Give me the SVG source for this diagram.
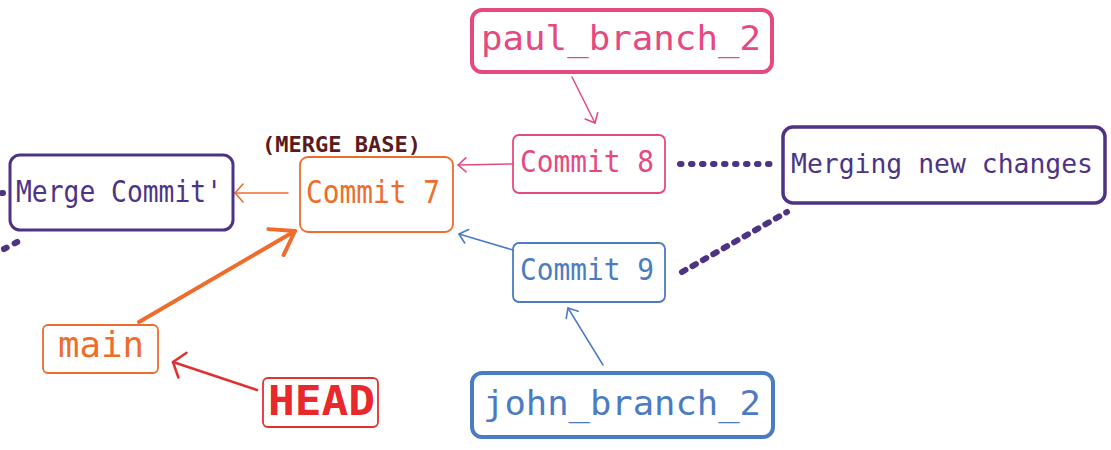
<svg xmlns="http://www.w3.org/2000/svg" width="1111" height="450" viewBox="0 0 1111 450">
<style>
.box{fill:none;stroke-linejoin:round}
.t{font-family:"DejaVu Sans Mono","Liberation Mono",monospace}
.pink{stroke:#e64980}.pinkt{fill:#e64980}
.orange{stroke:#ee6c2c}.oranget{fill:#ee6c2c}
.blue{stroke:#4b7bc3}.bluet{fill:#4b7bc3}
.purple{stroke:#4e3385}.purplet{fill:#4e3385}
.red{stroke:#e03131}.redt{fill:#e8282a}
.ln{fill:none;stroke-linecap:round;stroke-linejoin:round}
.dot{fill:none;stroke:#4e3385;stroke-width:6;stroke-linecap:round}
</style>
<defs>
<marker id="mPink" markerUnits="userSpaceOnUse" viewBox="-2 -2 12 18" refX="8" refY="7" markerWidth="12" markerHeight="18" orient="auto"><path d="M0,0 L8,7 L0,14" fill="none" stroke="#e64980" stroke-width="1.6" stroke-linecap="round" stroke-linejoin="round"/></marker>
<marker id="mBlue" markerUnits="userSpaceOnUse" viewBox="-2 -2 12 18" refX="8" refY="7" markerWidth="12" markerHeight="18" orient="auto"><path d="M0,0 L8,7 L0,14" fill="none" stroke="#4b7bc3" stroke-width="1.6" stroke-linecap="round" stroke-linejoin="round"/></marker>
<marker id="mOrange" markerUnits="userSpaceOnUse" viewBox="-2 -2 12 22" refX="8" refY="9" markerWidth="12" markerHeight="22" orient="auto"><path d="M0,0 L8,9 L0,18" fill="none" stroke="#ee6c2c" stroke-width="1.6" stroke-linecap="round" stroke-linejoin="round"/></marker>
<marker id="mOrangeThick" markerUnits="userSpaceOnUse" viewBox="-4 -4 30 38" refX="22" refY="15" markerWidth="30" markerHeight="38" orient="auto"><path d="M0,0 L22,15 L0,30" fill="none" stroke="#ee6c2c" stroke-width="4" stroke-linecap="round" stroke-linejoin="round"/></marker>
<marker id="mRed" markerUnits="userSpaceOnUse" viewBox="-3 -3 16 32" refX="10" refY="13" markerWidth="16" markerHeight="32" orient="auto"><path d="M0,0 L10,13 L0,26" fill="none" stroke="#e03131" stroke-width="2.5" stroke-linecap="round" stroke-linejoin="round"/></marker>
</defs>

<g id="connectors">
<path class="ln pink" stroke-width="1.5" d="M572,77 L595,123" marker-end="url(#mPink)"/>
<path class="ln pink" stroke-width="1.5" d="M513,164 L458,165" marker-end="url(#mPink)"/>
<path class="ln blue" stroke-width="1.5" d="M513,250 L459,234" marker-end="url(#mBlue)"/>
<path class="ln blue" stroke-width="1.5" d="M603,365 L568,308" marker-end="url(#mBlue)"/>
<path class="ln orange" stroke-width="1.5" d="M288,193 L235,193" marker-end="url(#mOrange)"/>
<path class="ln orange" stroke-width="4" d="M139,322 L295,231" marker-end="url(#mOrangeThick)"/>
<path class="ln red" stroke-width="2.5" d="M257,390 L173,362" marker-end="url(#mRed)"/>
<path class="dot" stroke-dasharray="1.5 9.5" d="M680,164 L778,164"/>
<path class="dot" stroke-dasharray="4 8" d="M682,272 L787,212"/>
<path class="dot" stroke-dasharray="1 10" d="M2,193 L12,193"/>
<path class="dot" stroke-dasharray="3 9" d="M4,249 L21,240"/>
</g>

<g id="paul_branch_2">
<rect class="box pink" x="472" y="10" width="300" height="62" rx="10" stroke-width="4"/>
<text class="t pinkt" x="481" y="50" font-size="34" textLength="280" lengthAdjust="spacingAndGlyphs">paul_branch_2</text>
</g>

<g id="commit8">
<rect class="box pink" x="513" y="135" width="152" height="58" rx="6" stroke-width="1.8"/>
<text class="t pinkt" x="520" y="172" font-size="31" textLength="134" lengthAdjust="spacingAndGlyphs">Commit 8</text>
</g>

<g id="merging">
<rect class="box purple" x="783" y="127" width="322" height="76" rx="10" stroke-width="3.5"/>
<text class="t purplet" x="791" y="173" font-size="27" textLength="302" lengthAdjust="spacingAndGlyphs">Merging new changes</text>
</g>

<g id="merge_base_label">
<text class="t" x="262" y="152" font-size="21" font-weight="bold" fill="#5b1a1e" textLength="159" lengthAdjust="spacingAndGlyphs">(MERGE BASE)</text>
</g>

<g id="commit7">
<rect class="box orange" x="300" y="157" width="153" height="75" rx="8" stroke-width="1.8"/>
<text class="t oranget" x="306" y="203" font-size="32" textLength="134" lengthAdjust="spacingAndGlyphs">Commit 7</text>
</g>

<g id="merge_commit">
<rect class="box purple" x="10" y="155" width="223" height="75" rx="10" stroke-width="3"/>
<text class="t purplet" x="16" y="202" font-size="31" textLength="206" lengthAdjust="spacingAndGlyphs">Merge Commit'</text>
</g>

<g id="commit9">
<rect class="box blue" x="513" y="243" width="152" height="59" rx="6" stroke-width="1.8"/>
<text class="t bluet" x="520" y="280" font-size="31" textLength="134" lengthAdjust="spacingAndGlyphs">Commit 9</text>
</g>

<g id="main">
<rect class="box orange" x="43" y="325" width="115" height="48" rx="5" stroke-width="1.8"/>
<text class="t oranget" x="58" y="357" font-size="36" textLength="86" lengthAdjust="spacingAndGlyphs">main</text>
</g>

<g id="head">
<rect class="box red" x="263" y="378" width="115" height="49" rx="5" stroke-width="1.8"/>
<text class="t redt" x="268" y="415" font-size="41" font-weight="bold" textLength="107" lengthAdjust="spacingAndGlyphs">HEAD</text>
</g>

<g id="john_branch_2">
<rect class="box blue" x="472" y="373" width="301" height="64" rx="10" stroke-width="4"/>
<text class="t bluet" x="483" y="415" font-size="34" textLength="278" lengthAdjust="spacingAndGlyphs">john_branch_2</text>
</g>
</svg>
